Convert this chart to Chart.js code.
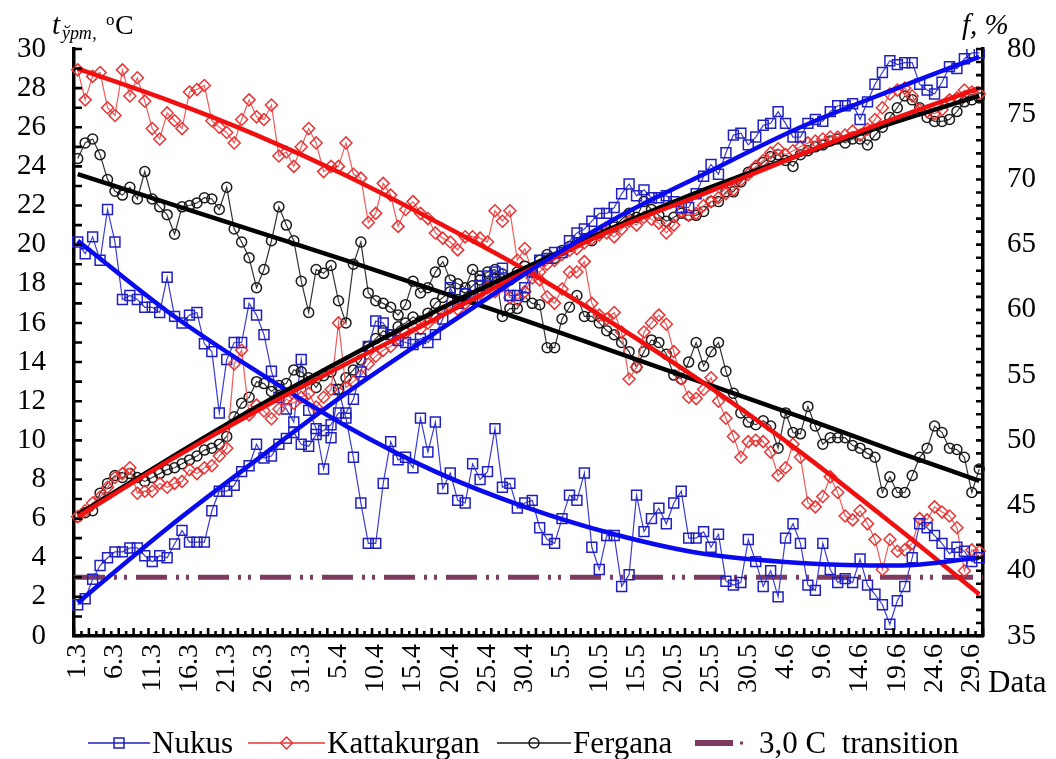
<!DOCTYPE html>
<html>
<head>
<meta charset="utf-8">
<script src="https://cdn.jsdelivr.net/npm/chart.js@4.4.1/dist/chart.umd.min.js"></script>
<style>
  html, body { margin: 0; padding: 0; background: #fff; }
  canvas { display: block; }
</style>
</head>
<body>
<canvas id="c" width="1056" height="759"></canvas>
<script>
// Days 1 March .. 30 June, labelled "day.month"
const monthLengths = [[3, 31], [4, 30], [5, 31], [6, 30]];
const dayLabels = [];
monthLengths.forEach(([m, n]) => { for (let d = 1; d <= n; d++) dayLabels.push(d + '.' + m); });

// Daily mean air temperature, °C (left axis)
const nukusTemp = [
  1.6, 1.9, 2.9, 3.6, 4.0, 4.3, 4.3, 4.5, 4.5, 4.1,
  3.8, 4.1, 4.0, 4.7, 5.4, 4.8, 4.8, 4.8, 6.4, 7.4,
  7.4, 7.7, 8.4, 8.7, 9.8, 9.1, 9.2, 9.8, 10.1, 10.4,
  9.8, 9.7, 10.3, 10.5, 10.8, 11.4, 11.4, 12.1, 13.5, 14.8,
  16.1, 16.0, 15.4, 15.1, 15.0, 14.9, 15.2, 15.0, 15.4, 16.2,
  17.8, 17.0, 17.5, 17.3, 17.9, 18.4, 18.6, 18.8, 17.4, 17.4,
  17.8, 18.6, 19.2, 19.3, 19.6, 19.6, 20.2, 20.6, 20.8, 21.2,
  21.6, 21.6, 21.9, 22.6, 23.1, 22.5, 22.8, 22.4, 22.4, 22.5,
  22.2, 21.9, 21.9, 22.6, 23.5, 24.1, 23.6, 24.7, 25.6, 25.7,
  25.1, 25.5, 26.1, 26.2, 26.8, 26.2, 25.5, 25.5, 26.2, 26.4,
  26.3, 26.8, 27.1, 27.1, 27.2, 26.4, 27.3, 28.2, 28.8, 29.4,
  29.2, 29.3, 29.3, 28.2, 27.9, 27.7, 28.3, 29.1, 29.0, 29.5,
  29.8, 29.8
];
const kattakurganTemp = [
  6.1, 6.4, 6.8, 7.1, 7.6, 8.1, 8.3, 8.6, 7.3, 7.4,
  7.4, 7.8, 7.6, 7.8, 7.9, 8.5, 8.3, 8.6, 8.7, 9.2,
  9.6, 13.9, 14.6, 11.3, 11.8, 11.5, 11.1, 11.6, 12.1, 11.9,
  12.2, 12.4, 11.7, 12.2, 12.6, 16.0, 12.7, 13.0, 13.3, 13.9,
  14.3, 14.6, 14.8, 15.2, 15.5, 15.8, 15.7, 16.0, 16.3, 16.6,
  16.8, 16.7, 17.0, 17.3, 17.5, 17.8, 17.6, 17.9, 17.3, 17.2,
  17.6, 18.3, 18.6, 19.0, 19.2, 19.5, 19.7, 19.8, 20.1, 20.3,
  20.5, 20.6, 20.4, 20.8, 21.2, 21.0, 21.4, 21.3, 21.1, 20.6,
  21.0, 21.7, 21.5, 21.6, 22.0, 22.2, 22.4, 22.6, 22.8, 23.3,
  23.6, 24.0, 24.3, 24.7, 24.9, 24.6, 24.8, 25.0, 25.2, 25.3,
  25.4, 25.5, 25.5, 25.6, 25.8, 25.6, 25.9, 26.4, 27.0, 27.7,
  27.9, 28.0, 27.6, 26.9, 26.8, 26.7, 26.9, 27.4, 27.5, 27.9,
  27.8, 27.7
];
const ferganaTemp = [
  6.1, 6.3, 6.4, 7.3, 7.8, 8.2, 8.1, 8.3, 8.1, 7.9,
  8.1, 8.3, 8.5, 8.6, 8.8, 9.0, 9.2, 9.5, 9.6, 9.8,
  10.2, 11.2, 11.9, 12.2, 13.0, 12.9, 12.5, 12.8, 12.9, 13.6,
  13.5, 13.2, 12.7, 13.3, 13.5, 12.6, 13.2, 13.6, 14.1, 14.8,
  15.2, 15.6, 15.4, 15.8, 16.0, 16.3, 16.1, 16.5, 17.0, 17.3,
  17.6, 17.2, 17.5, 17.9, 18.2, 18.0, 18.3, 18.5, 18.2, 18.6,
  18.9, 18.8, 19.2, 19.5, 19.3, 19.7, 19.9, 20.1, 20.3, 20.2,
  20.6, 20.8, 20.9, 21.3, 21.6, 21.4, 22.2, 21.8, 21.5, 21.2,
  21.4, 21.6, 21.5, 21.5, 21.7, 22.2, 22.2, 22.7, 22.7, 23.2,
  23.7, 23.9, 24.2, 24.5, 24.6, 24.3, 24.0, 24.6, 24.8, 25.0,
  25.1, 25.3, 25.4, 25.2, 25.4, 25.4, 25.1, 25.6, 26.0, 26.5,
  27.0, 27.6, 27.4, 27.0, 26.5, 26.3, 26.3, 26.4, 26.8, 27.3,
  27.4, 27.5
];

// Daily mean relative humidity, % (right axis)
const nukusHum = [
  65.2, 64.3, 65.6, 63.8, 67.7, 65.2, 60.8, 61.1, 60.8, 60.2,
  60.2, 59.8, 62.5, 59.5, 59.0, 59.6, 59.8, 57.4, 56.8, 52.1,
  56.2, 57.5, 57.5, 60.5, 59.6, 58.1, 55.3, 53.3, 52.4, 51.4,
  56.2, 52.3, 50.9, 47.8, 50.2, 53.9, 51.7, 48.7, 45.2, 42.1,
  42.1, 46.7, 49.9, 48.5, 48.7, 47.9, 51.7, 49.1, 51.4, 46.3,
  47.5, 45.4, 45.2, 48.2, 47.0, 47.6, 50.9, 46.4, 46.7, 44.8,
  45.2, 45.4, 43.3, 42.4, 42.1, 44.0, 45.8, 45.4, 47.5, 41.8,
  40.1, 42.7, 42.7, 38.8, 39.7, 45.8, 43.0, 44.0, 44.8, 43.6,
  45.2, 46.1, 42.5, 42.5, 43.0, 41.8, 42.8, 39.2, 38.9, 39.1,
  42.4, 40.7, 38.8, 40.0, 38.0, 42.5, 43.6, 42.1, 38.9, 38.5,
  42.1, 40.1, 39.1, 39.4, 39.1, 40.9, 38.9, 38.2, 37.4, 35.9,
  37.7, 38.8, 41.0, 43.6, 43.3, 42.7, 42.1, 41.3, 41.8, 41.5,
  40.7, 41.0
];
const kattakurganHum = [
  78.4, 76.1, 77.9, 78.2, 75.5, 74.9, 78.4, 76.4, 77.8, 76.0,
  73.9, 73.1, 75.1, 74.5, 73.9, 76.7, 76.9, 77.2, 74.5, 74.0,
  73.6, 72.8, 74.6, 76.1, 74.8, 74.6, 75.7, 71.8, 72.1, 71.0,
  72.5, 73.9, 72.8, 70.6, 71.0, 71.0, 72.8, 70.4, 70.1, 66.7,
  67.4, 69.7, 68.8, 66.4, 67.7, 68.3, 67.4, 67.0, 65.9, 65.5,
  65.2, 64.6, 65.6, 65.6, 65.5, 65.2, 67.6, 66.8, 67.6, 63.8,
  64.7, 62.9, 62.3, 61.0, 60.5, 61.6, 62.9, 62.9, 63.7, 60.5,
  59.6, 59.3, 59.8, 58.3, 54.7, 55.6, 58.3, 59.0, 59.6, 58.9,
  56.8, 54.7, 53.3, 53.2, 53.9, 54.8, 53.0, 51.7, 50.3, 48.7,
  49.9, 50.0, 49.9, 49.1, 47.3, 47.9, 49.7, 48.7, 45.2, 44.9,
  45.7, 47.2, 46.0, 44.2, 43.9, 44.6, 43.6, 42.4, 40.1, 42.4,
  41.5, 41.6, 42.1, 44.0, 43.9, 44.9, 44.5, 44.2, 43.3, 40.0,
  41.6, 41.5
];
const ferganaHum = [
  71.6, 72.8, 73.1, 71.9, 70.0, 69.1, 68.8, 69.4, 68.5, 70.6,
  68.5, 67.9, 67.3, 65.8, 67.9, 68.0, 68.2, 68.6, 68.5, 67.7,
  69.4, 66.2, 65.2, 64.0, 61.7, 63.1, 65.3, 67.9, 66.5, 65.3,
  62.2, 59.8, 63.1, 62.8, 63.4, 60.7, 59.0, 63.5, 65.2, 61.3,
  60.7, 60.5, 60.2, 59.6, 60.4, 62.2, 61.3, 61.7, 62.9, 63.7,
  62.3, 62.0, 61.7, 63.1, 62.6, 62.9, 63.1, 59.5, 60.1, 60.1,
  61.0, 60.5, 60.4, 57.1, 57.1, 59.3, 60.2, 61.1, 59.5, 59.5,
  59.0, 58.4, 58.1, 57.5, 56.8, 55.6, 56.8, 57.7, 57.5, 56.6,
  55.0, 54.7, 56.0, 57.5, 55.7, 56.8, 57.5, 55.3, 53.6, 52.1,
  51.4, 51.2, 51.5, 51.1, 49.4, 52.1, 50.6, 50.5, 52.6, 51.1,
  49.7, 50.2, 50.2, 50.2, 49.6, 49.4, 49.0, 48.7, 46.0, 47.2,
  46.0, 46.0, 47.3, 48.7, 49.4, 51.1, 50.6, 49.4, 49.3, 48.7,
  46.0, 47.8
];

// Trend curves, sampled at these day indices
const trendDayIndex = [0, 12, 24, 36, 48, 60, 72, 84, 97, 110, 121];
const nukusTempTrend       = [1.7, 5.5, 9.0, 12.4, 15.5, 18.5, 21.3, 23.6, 26.0, 28.0, 29.6];
const kattakurganTempTrend = [6.1, 8.9, 11.5, 13.9, 16.2, 18.6, 20.8, 22.6, 24.6, 26.5, 28.0];
const ferganaTempTrend     = [6.2, 9.0, 11.7, 14.2, 16.6, 18.8, 20.9, 22.8, 24.6, 26.3, 27.6];
const nukusHumTrend        = [65.3, 59.9, 55.3, 51.1, 47.6, 44.9, 42.8, 41.3, 40.6, 40.4, 41.0];
const kattakurganHumTrend  = [78.5, 76.1, 73.4, 70.3, 66.8, 63.1, 58.9, 54.4, 49.1, 43.3, 38.2];
const ferganaHumTrend      = [70.4, 68.2, 66.0, 63.8, 61.5, 59.2, 56.8, 54.4, 51.8, 49.1, 46.9];

// Spring transition threshold, °C
const transitionTemp = 3.0;

const yTicks = { min: 0, max: 30, step: 2 };
const y2Ticks = { min: 35, max: 80, step: 5 };

const COLORS = {
  nukus: '#1f1fc2', nukusLine: '#3a3ad8', nukusTrend: '#0a0aee',
  katta: '#e83434', kattaLine: '#f05a5a', kattaTrend: '#f01010',
  fergana: '#1a1a1a', ferganaLine: '#333333', ferganaTrend: '#000000',
  transition: '#7e3a5f'
};
const SERIF = '"Liberation Serif", "Times New Roman", serif';

const toTrendPoints = vals => vals.map((v, k) => ({ x: dayLabels[trendDayIndex[k]], y: v }));

function observed(values, axis, line, marker, style, radius) {
  return {
    data: values, yAxisID: axis, order: 2,
    borderColor: line, borderWidth: 1.2, tension: 0, fill: false,
    pointStyle: style, pointRadius: radius, pointBorderWidth: 1.5,
    pointBorderColor: marker, pointBackgroundColor: 'rgba(255,255,255,0)'
  };
}
function trend(values, axis, color) {
  return {
    data: toTrendPoints(values), yAxisID: axis, order: 1,
    borderColor: color, borderWidth: 4.5, pointRadius: 0, fill: false,
    cubicInterpolationMode: 'monotone'
  };
}

const datasets = [
  trend(nukusTempTrend, 'y', COLORS.nukusTrend),
  trend(kattakurganTempTrend, 'y', COLORS.kattaTrend),
  trend(ferganaTempTrend, 'y', COLORS.ferganaTrend),
  trend(nukusHumTrend, 'y2', COLORS.nukusTrend),
  trend(kattakurganHumTrend, 'y2', COLORS.kattaTrend),
  trend(ferganaHumTrend, 'y2', COLORS.ferganaTrend),
  observed(nukusTemp, 'y', COLORS.nukusLine, COLORS.nukus, 'rect', 7),
  observed(kattakurganTemp, 'y', COLORS.kattaLine, COLORS.katta, 'rectRot', 6),
  observed(ferganaTemp, 'y', COLORS.ferganaLine, COLORS.fergana, 'circle', 5),
  observed(nukusHum, 'y2', COLORS.nukusLine, COLORS.nukus, 'rect', 7),
  observed(kattakurganHum, 'y2', COLORS.kattaLine, COLORS.katta, 'rectRot', 6),
  observed(ferganaHum, 'y2', COLORS.ferganaLine, COLORS.fergana, 'circle', 5)
];

// Legend entries: sample start x and text start x
const legendItems = [
  { text: 'Nukus', color: COLORS.nukus, marker: 'rect', sx: 88, tx: 152 },
  { text: 'Kattakurgan', color: COLORS.katta, marker: 'diamond', sx: 248, tx: 327 },
  { text: 'Fergana', color: COLORS.fergana, marker: 'circle', sx: 497, tx: 573 },
  { text: '3,0 C  transition', color: COLORS.transition, marker: 'dashdot', sx: 693, tx: 759 }
];

function drawMarker(ctx, kind, x, y, color) {
  ctx.save();
  ctx.strokeStyle = color; ctx.lineWidth = 1.5; ctx.beginPath();
  if (kind === 'rect') ctx.rect(x - 5, y - 5, 10, 10);
  else if (kind === 'diamond') { ctx.moveTo(x - 6, y); ctx.lineTo(x, y - 6); ctx.lineTo(x + 6, y); ctx.lineTo(x, y + 6); ctx.closePath(); }
  else if (kind === 'circle') ctx.arc(x, y, 5, 0, Math.PI * 2);
  ctx.stroke(); ctx.restore();
}

const decor = {
  id: 'decor',
  beforeDatasetsDraw(chart) {
    const { ctx, chartArea: a, scales: { y } } = chart;
    const py = y.getPixelForValue(transitionTemp);
    ctx.save();
    ctx.strokeStyle = COLORS.transition; ctx.lineWidth = 5;
    ctx.setLineDash([31, 9, 3, 7, 3, 9]);
    ctx.beginPath(); ctx.moveTo(a.left, py); ctx.lineTo(a.right, py); ctx.stroke();
    ctx.restore();
  },
  afterDraw(chart) {
    const { ctx, chartArea: a, scales: { x, y, y2 } } = chart;
    ctx.save();
    // inward tick marks
    ctx.strokeStyle = '#000'; ctx.lineWidth = 2.6;
    ctx.beginPath();
    for (let v = yTicks.min; v <= yTicks.max; v++) {
      const py = y.getPixelForValue(v);
      ctx.moveTo(a.left, py); ctx.lineTo(a.left + 8, py);
    }
    for (let v = y2Ticks.min; v <= y2Ticks.max; v++) {
      const py = y2.getPixelForValue(v);
      ctx.moveTo(a.right - 7, py); ctx.lineTo(a.right, py);
    }
    const step = x.getPixelForValue(1) - x.getPixelForValue(0);
    for (let k = 0; k <= dayLabels.length; k++) {
      const px = x.getPixelForValue(0) - step / 2 + k * step;
      ctx.moveTo(px, a.bottom); ctx.lineTo(px, a.bottom - (k % 2 ? 5 : 8));
    }
    ctx.stroke();

    // axis titles
    ctx.fillStyle = '#000'; ctx.textBaseline = 'alphabetic'; ctx.textAlign = 'left';
    ctx.font = 'italic 29px ' + SERIF; ctx.fillText('t', 52, 34);
    ctx.font = 'italic 18px ' + SERIF; ctx.fillText('ўрт,', 62, 39);
    ctx.font = '17px ' + SERIF; ctx.fillText('o', 106, 25);
    ctx.font = '28px ' + SERIF; ctx.fillText('C', 115, 34);
    ctx.font = 'italic 29px ' + SERIF; ctx.fillText('f, %', 962, 34);
    ctx.font = '31px ' + SERIF; ctx.fillText('Data', 988, 692);

    // legend
    const ly = 743;
    ctx.font = '31px ' + SERIF;
    legendItems.forEach(it => {
      if (it.marker === 'dashdot') {
        ctx.strokeStyle = it.color; ctx.lineWidth = 6;
        ctx.beginPath(); ctx.moveTo(it.sx + 2, ly); ctx.lineTo(it.sx + 40, ly); ctx.stroke();
        ctx.fillStyle = it.color; ctx.fillRect(it.sx + 47, ly - 1.5, 3, 3);
      } else {
        const w = it.tx - it.sx - 2;
        ctx.strokeStyle = it.color; ctx.lineWidth = 1.5;
        ctx.beginPath(); ctx.moveTo(it.sx, ly); ctx.lineTo(it.sx + w, ly); ctx.stroke();
        drawMarker(ctx, it.marker, it.sx + w / 2, ly, it.color);
      }
      ctx.fillStyle = '#000';
      ctx.fillText(it.text, it.tx, ly + 10);
    });
    ctx.restore();
  }
};

const tickFont = { family: SERIF, size: 29 };
const axisBorder = { display: true, color: '#000', width: 3.5 };

new Chart(document.getElementById('c'), {
  type: 'line',
  data: { labels: dayLabels, datasets },
  options: {
    responsive: false, animation: false, devicePixelRatio: 1,
    layout: { padding: { top: 49, left: 0, right: 0, bottom: 0 } },
    plugins: { legend: { display: false }, tooltip: { enabled: false } },
    scales: {
      x: {
        type: 'category', offset: true,
        grid: { display: false, drawTicks: false }, border: axisBorder,
        ticks: {
          autoSkip: false, minRotation: 90, maxRotation: 90, padding: 8,
          color: '#000', font: { family: SERIF, size: 28 },
          callback(v, i) { return i % 5 === 0 ? this.getLabelForValue(v) : ''; }
        },
        afterFit(s) { s.height = 123; }
      },
      y: {
        position: 'left', min: yTicks.min, max: yTicks.max,
        grid: { display: false, drawTicks: false }, border: axisBorder,
        ticks: { stepSize: yTicks.step, padding: 28, color: '#000', font: tickFont },
        afterFit(s) { s.width = 74; }
      },
      y2: {
        position: 'right', min: y2Ticks.min, max: y2Ticks.max,
        grid: { display: false, drawTicks: false }, border: axisBorder,
        ticks: { stepSize: y2Ticks.step, padding: 24, color: '#000', font: tickFont },
        afterFit(s) { s.width = 73; }
      }
    }
  },
  plugins: [decor]
});
</script>
</body>
</html>
